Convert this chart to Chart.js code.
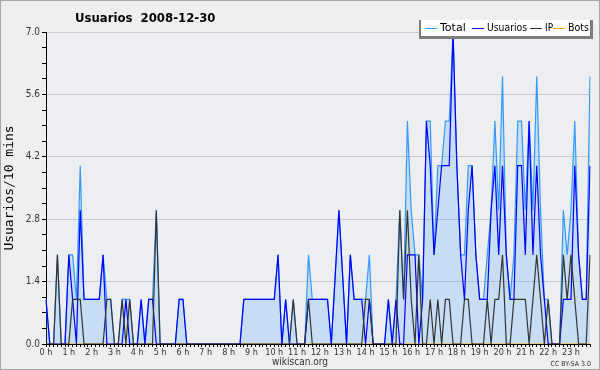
<!DOCTYPE html>
<html>
<head>
<meta charset="utf-8">
<script src="https://cdn.jsdelivr.net/npm/chart.js@4.4.0/dist/chart.umd.min.js"></script>
<style>
  html, body { margin: 0; padding: 0; background: #efefef; }
  canvas { display: block; }
</style>
</head>
<body>
<canvas id="usersChart" width="600" height="370"></canvas>
<script>
const chartTitle = "Usuarios  2008-12-30";
const hourLabels = ["0 h", "1 h", "2 h", "3 h", "4 h", "5 h", "6 h", "7 h", "8 h", "9 h", "10 h", "11 h",
  "12 h", "13 h", "14 h", "15 h", "16 h", "17 h", "18 h", "19 h", "20 h", "21 h", "22 h", "23 h"];

// one value per 10 minutes, 144 per day
const totalUsers = [
  1, 0, 0, 2, 0, 0, 2, 2, 1, 4, 1, 1,
  1, 1, 1, 2, 1, 1, 0, 0, 1, 1, 1, 0,
  0, 1, 0, 1, 1, 3, 0, 0, 0, 0, 0, 1,
  1, 0, 0, 0, 0, 0, 0, 0, 0, 0, 0, 0,
  0, 0, 0, 0, 1, 1, 1, 1, 1, 1, 1, 1,
  1, 2, 0, 1, 0, 1, 0, 0, 0, 2, 1, 1,
  1, 1, 1, 0, 1.5, 3, 1.5, 0, 2, 1, 1, 1,
  1, 2, 0, 0, 0, 0, 1, 0, 1, 3, 1, 5,
  3, 2, 2, 1, 5, 5, 2, 4, 4, 5, 5, 7,
  4, 2, 2, 4, 4, 2, 1, 1, 2, 3, 5, 3,
  6, 2, 1, 2, 5, 5, 3, 5, 3, 6, 3, 1,
  1, 0, 0, 0, 3, 2, 3, 5, 2, 1, 1, 6
];
const registeredUsers = [
  1, 0, 0, 0, 0, 0, 2, 1, 0, 3, 1, 1,
  1, 1, 1, 2, 0, 0, 0, 0, 0, 1, 0, 0,
  0, 1, 0, 1, 1, 0, 0, 0, 0, 0, 0, 1,
  1, 0, 0, 0, 0, 0, 0, 0, 0, 0, 0, 0,
  0, 0, 0, 0, 1, 1, 1, 1, 1, 1, 1, 1,
  1, 2, 0, 1, 0, 0, 0, 0, 0, 1, 1, 1,
  1, 1, 1, 0, 1.5, 3, 1.5, 0, 2, 1, 1, 1,
  0, 1, 0, 0, 0, 0, 1, 0, 1, 0, 0, 2,
  2, 2, 0, 1, 5, 4, 2, 3, 4, 4, 4, 7,
  4, 2, 1, 3, 4, 2, 1, 1, 1, 3, 4, 2,
  4, 2, 1, 1, 4, 4, 2, 5, 2, 4, 2, 1,
  0, 0, 0, 0, 1, 1, 1, 4, 2, 1, 1, 4
];
const ipUsers = [
  0, 0, 0, 2, 0, 0, 0, 1, 1, 1, 0, 0,
  0, 0, 0, 0, 1, 1, 0, 0, 1, 0, 1, 0,
  0, 0, 0, 0, 0, 3, 0, 0, 0, 0, 0, 0,
  0, 0, 0, 0, 0, 0, 0, 0, 0, 0, 0, 0,
  0, 0, 0, 0, 0, 0, 0, 0, 0, 0, 0, 0,
  0, 0, 0, 0, 0, 1, 0, 0, 0, 1, 0, 0,
  0, 0, 0, 0, 0, 0, 0, 0, 0, 0, 0, 0,
  1, 1, 0, 0, 0, 0, 0, 0, 0, 3, 1, 3,
  1, 0, 2, 0, 0, 1, 0, 1, 0, 1, 1, 0,
  0, 0, 1, 1, 0, 0, 0, 0, 1, 0, 1, 1,
  2, 0, 0, 1, 1, 1, 1, 0, 1, 2, 1, 0,
  1, 0, 0, 0, 2, 1, 2, 1, 0, 0, 0, 2
];
const botUsers = [
  0, 0, 0, 0, 0, 0, 0, 0, 0, 0, 0, 0,
  0, 0, 0, 0, 0, 0, 0, 0, 0, 0, 0, 0,
  0, 0, 0, 0, 0, 0, 0, 0, 0, 0, 0, 0,
  0, 0, 0, 0, 0, 0, 0, 0, 0, 0, 0, 0,
  0, 0, 0, 0, 0, 0, 0, 0, 0, 0, 0, 0,
  0, 0, 0, 0, 0, 0, 0, 0, 0, 0, 0, 0,
  0, 0, 0, 0, 0, 0, 0, 0, 0, 0, 0, 0,
  0, 0, 0, 0, 0, 0, 0, 0, 0, 0, 0, 0,
  0, 0, 0, 0, 0, 0, 0, 0, 0, 0, 0, 0,
  0, 0, 0, 0, 0, 0, 0, 0, 0, 0, 0, 0,
  0, 0, 0, 0, 0, 0, 0, 0, 0, 0, 0, 0,
  0, 0, 0, 0, 0, 0, 0, 0, 0, 0, 0, 0
];

// 10 minute slots
const slots = [];
for (let h = 0; h < 24; h++) {
  for (let m = 0; m < 60; m += 10) {
    slots.push(h + ":" + (m < 10 ? "0" : "") + m);
  }
}

function isMajor(v) {
  return Math.abs(Math.round(v / 1.4) * 1.4 - v) < 1e-6;
}

const decor = {
  id: "decor",
  beforeDraw(chart) {
    const { ctx, chartArea: a } = chart;
    ctx.save();
    ctx.fillStyle = "#efefef";
    ctx.fillRect(0, 0, chart.width, chart.height);
    ctx.strokeStyle = "#a8a8a8";
    ctx.lineWidth = 1;
    ctx.strokeRect(0.5, 0.5, chart.width - 1, chart.height - 1);
    ctx.fillStyle = "#eceef1";
    ctx.fillRect(a.left, a.top, a.right - a.left, a.bottom - a.top);
    ctx.restore();
  },
  afterDraw(chart) {
    const ctx = chart.ctx;
    ctx.save();
    // title
    ctx.fillStyle = "#000";
    ctx.font = 'bold 13px "DejaVu Sans Condensed", "DejaVu Sans"';
    ctx.textBaseline = "alphabetic";
    ctx.fillText(chartTitle, 75, 22);

    // legend box
    ctx.fillStyle = "#7c7c7c";
    ctx.fillRect(419, 20, 174, 19);
    ctx.fillStyle = "#ffffff";
    ctx.fillRect(421, 20, 169, 16);
    ctx.font = '11px "DejaVu Sans"';
    ctx.textBaseline = "middle";
    const starts = [425, 472, 530, 553];
    const widths = [29, 40, 8, 21];
    const y = 28;
    chart.data.datasets.forEach((ds, i) => {
      const x = starts[i];
      ctx.strokeStyle = ds.borderColor;
      ctx.lineWidth = 1;
      ctx.beginPath();
      ctx.moveTo(x, y + 0.5);
      ctx.lineTo(x + 12, y + 0.5);
      ctx.stroke();
      ctx.fillStyle = "#000";
      ctx.fillText(ds.label, x + 15, y, widths[i]);
    });

    // credits
    ctx.fillStyle = "#333";
    ctx.font = '10px "DejaVu Sans Condensed", "DejaVu Sans"';
    ctx.textAlign = "center";
    ctx.textBaseline = "alphabetic";
    ctx.fillText("wikiscan.org", 300, 365);
    ctx.font = '7px "DejaVu Sans Condensed", "DejaVu Sans"';
    ctx.textAlign = "right";
    ctx.fillText("CC BY-SA 3.0", 591, 366);
    ctx.restore();
  }
};

const ctx = document.getElementById("usersChart").getContext("2d");
const usersChart = new Chart(ctx, {
  type: "line",
  data: {
    labels: slots,
    datasets: [
      {
        label: "Total",
        data: totalUsers,
        borderColor: "#3399ff",
        backgroundColor: "rgba(51, 153, 255, 0.2)",
        fill: "origin",
        order: 4
      },
      {
        label: "Usuarios",
        data: registeredUsers,
        borderColor: "#0000ff",
        fill: false,
        order: 2
      },
      {
        label: "IP",
        data: ipUsers,
        borderColor: "#333333",
        fill: false,
        order: 1
      },
      {
        label: "Bots",
        data: botUsers,
        borderColor: "#ffa500",
        fill: false,
        order: 3
      }
    ]
  },
  options: {
    responsive: false,
    animation: false,
    devicePixelRatio: 1,
    layout: { padding: { top: 32, right: 10, left: 0, bottom: 0 } },
    elements: {
      point: { radius: 0 },
      line: { borderWidth: 1.2, tension: 0 }
    },
    plugins: {
      legend: { display: false },
      tooltip: { enabled: false }
    },
    scales: {
      x: {
        z: 1,
        grid: { drawOnChartArea: false, tickLength: 3, tickColor: "#000" },
        border: { color: "#000" },
        ticks: {
          autoSkip: false,
          maxRotation: 0,
          padding: 0,
          color: "#333",
          font: { family: '"DejaVu Sans Condensed", "DejaVu Sans"', size: 9 },
          callback: (v, i) => (i % 6 === 0 ? hourLabels[i / 6] : "")
        },
        afterFit: (s) => { s.height = 26; }
      },
      y: {
        min: 0,
        max: 7,
        grid: {
          color: (c) => (isMajor(c.tick.value) ? "#c8c8c8" : "rgba(0,0,0,0)"),
          tickColor: "#000",
          tickLength: 4
        },
        border: { color: "#000" },
        ticks: {
          stepSize: 0.35,
          autoSkip: false,
          padding: 2,
          color: "#333",
          font: { family: '"DejaVu Sans Condensed", "DejaVu Sans"', size: 10 },
          callback: (v) => (isMajor(v) ? v.toFixed(1) : "")
        },
        title: {
          display: true,
          text: "Usuarios/10 mins",
          color: "#000",
          font: { family: '"DejaVu Sans Mono"', size: 13 },
          padding: { top: 2, bottom: 0 }
        },
        afterFit: (s) => { s.width = 46; }
      }
    }
  },
  plugins: [decor]
});
</script>
</body>
</html>
